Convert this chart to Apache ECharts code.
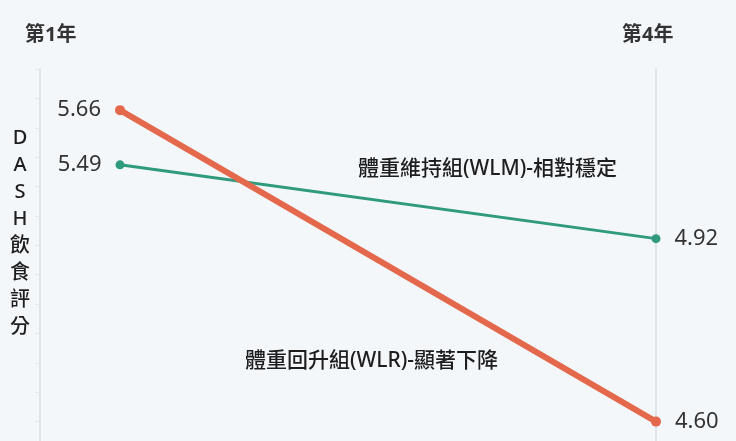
<!DOCTYPE html>
<html>
<head>
<meta charset="utf-8">
<script src="https://cdn.jsdelivr.net/npm/echarts@6/dist/echarts.min.js"></script>
<style>
  html, body { margin: 0; padding: 0; background: #f4f7fa; }
  #chart { width: 736px; height: 441px; }
</style>
</head>
<body>
<div id="chart"></div>
<script>
// Time points (x categories)
const years = ['第1年', '第4年'];
// DASH diet score by group
const wlrScores = [5.66, 4.60];   // weight-regain group
const wlmScores = [5.49, 4.92];   // weight-maintenance group
const wlrName = '體重回升組(WLR)-顯著下降';
const wlmName = '體重維持組(WLM)-相對穩定';
const axisTitle = 'DASH飲食評分';

const FONT = "'Noto Sans', 'Noto Sans CJK TC', sans-serif";
const RED = '#e4694c';
const GREEN = '#2f9a7d';

function endLabels(values) {
  return values.map((v, i) => ({
    value: v,
    label: {
      position: i === 0 ? 'left' : 'right',
      distance: 14
    }
  }));
}

const chart = echarts.init(document.getElementById('chart'));
chart.setOption({
  backgroundColor: '#f4f7fa',
  animation: false,
  // plot area runs a little past the bottom edge of the canvas
  grid: { left: 120, right: 80, top: 69, height: 382, outerBoundsMode: 'none', containLabel: false },
  xAxis: {
    type: 'category',
    data: years,
    boundaryGap: false,
    axisLine: { show: false },
    axisTick: { show: false },
    axisLabel: { show: false }
  },
  yAxis: [
    {
      type: 'value',
      position: 'left',
      offset: 80,
      min: 4.5,
      max: 5.8,
      interval: 0.1,
      axisLine: { show: true, lineStyle: { color: '#dfe4ea', width: 2 } },
      axisTick: { show: true, length: 5, lineStyle: { color: '#e3e7ec' } },
      axisLabel: { show: false },
      splitLine: { show: false }
    },
    {
      type: 'value',
      position: 'right',
      min: 3.28,
      max: 6.23,
      axisLine: { show: true, lineStyle: { color: '#dfe4ea', width: 2 } },
      axisTick: { show: false },
      axisLabel: { show: false },
      splitLine: { show: false }
    }
  ],
  series: [
    {
      name: wlrName,
      type: 'line',
      yAxisIndex: 0,
      data: endLabels(wlrScores),
      symbol: 'circle',
      symbolSize: 10,
      itemStyle: { color: RED },
      lineStyle: { color: RED, width: 6 },
      label: {
        show: true,
        fontFamily: FONT,
        fontSize: 22,
        color: '#333',
        formatter: p => p.value.toFixed(2)
      },
      z: 3
    },
    {
      name: wlmName,
      type: 'line',
      yAxisIndex: 1,
      data: endLabels(wlmScores),
      symbol: 'circle',
      symbolSize: 9,
      itemStyle: { color: GREEN },
      lineStyle: { color: GREEN, width: 3 },
      label: {
        show: true,
        fontFamily: FONT,
        fontSize: 22,
        color: '#333',
        formatter: p => p.value.toFixed(2)
      },
      z: 2
    }
  ],
  graphic: [
    {
      type: 'text', left: 25, top: 25,
      style: { text: years[0], fontSize: 20, fontWeight: 'bold', fontFamily: FONT, fill: '#333' }
    },
    {
      type: 'text', left: 622, top: 25,
      style: { text: years[1], fontSize: 20, fontWeight: 'bold', fontFamily: FONT, fill: '#333' }
    },
    {
      type: 'text', x: 20, y: 125,
      style: {
        text: axisTitle.split('').join('\n'),
        fontSize: 20,
        fontWeight: 500,
        fontFamily: FONT,
        lineHeight: 27,
        align: 'center',
        fill: '#1e1e1e'
      }
    },
    {
      type: 'text', left: 358, top: 159,
      style: { text: wlmName, fontSize: 21, fontWeight: 500, fontFamily: FONT, fill: '#1e1e1e' }
    },
    {
      type: 'text', left: 245, top: 351,
      style: { text: wlrName, fontSize: 21, fontWeight: 500, fontFamily: FONT, fill: '#1e1e1e' }
    }
  ]
});
</script>
</body>
</html>
